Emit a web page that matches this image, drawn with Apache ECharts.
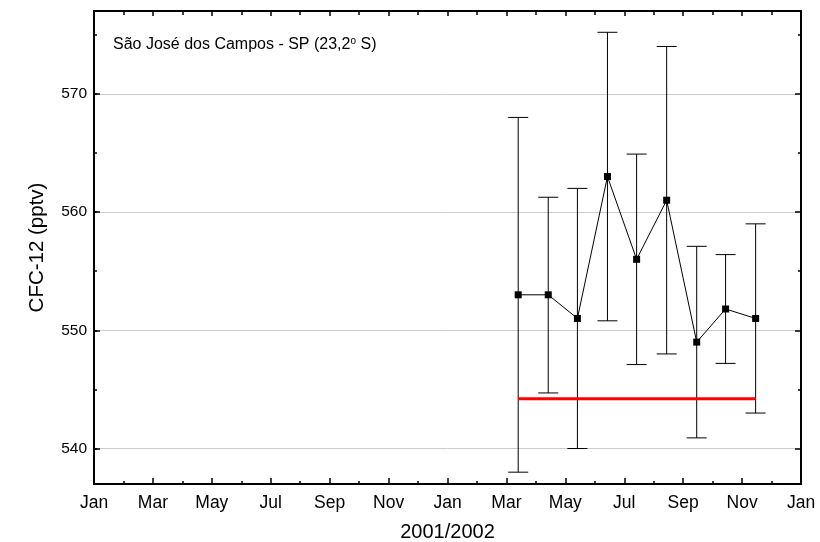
<!DOCTYPE html>
<html><head><meta charset="utf-8">
<script src="https://cdn.jsdelivr.net/npm/echarts@6/dist/echarts.min.js"></script>
<style>html,body{margin:0;padding:0;background:#fff}#c{width:820px;height:542px}</style>
</head><body><div id="c"></div>
<script>
// ---- data ----
const monthLabels = ['Jan','Feb','Mar','Apr','May','Jun','Jul','Aug','Sep','Oct','Nov','Dec'];
// x position in months since Jan 2001
const sampleMonth = [14.4, 15.42, 16.41, 17.43, 18.42, 19.44, 20.46, 21.44, 22.46];
const cfc12       = [553, 553, 551, 563, 556, 561, 549, 551.8, 551];
const cfc12Upper  = [568, 561.25, 562, 575.2, 564.9, 574, 557.1, 556.4, 559];
const cfc12Lower  = [538, 544.7, 540, 550.8, 547.1, 548, 540.9, 547.2, 543];
const refLevel = 544.2;
const refRange = [14.4, 22.46];
const xRange = [0, 24];
const yRange = [537, 577];

const FONT = '"Liberation Sans", Arial, sans-serif';
const chart = echarts.init(document.getElementById('c'));

const lineData = sampleMonth.map((m, i) => [m, cfc12[i]]);
const errData = sampleMonth.map((m, i) => [m, cfc12Upper[i], cfc12Lower[i]]);
const refData = refRange.map(m => [m, refLevel]);

const frame = { show: true, lineStyle: { color: '#000', width: 2 } };

const baseX = {
  type: 'value', min: xRange[0], max: xRange[1], interval: 2,
  splitLine: { show: false },
  axisLine: frame
};
const baseY = {
  type: 'value', min: yRange[0], max: yRange[1],
  splitLine: { show: false },
  axisLabel: { show: false }
};

chart.setOption({
  animation: false,
  backgroundColor: '#fff',
  title: {
    left: 108, top: 31,
    text: '{a|São José dos Campos - SP (23,2}{s|o}{a| S)}',
    textStyle: {
      fontWeight: 'normal',
      rich: {
        a: { fontFamily: FONT, fontSize: 16, fontWeight: 'normal', color: '#000', lineHeight: 18 },
        s: { fontFamily: FONT, fontSize: 10, fontWeight: 'normal', color: '#000', verticalAlign: 'top', lineHeight: 18 }
      }
    }
  },
  grid: { left: 94, right: 19, top: 11, bottom: 58, containLabel: false, outerBoundsMode: 'none' },
  xAxis: [
    Object.assign({}, baseX, {
      position: 'bottom', z: 3,
      name: '2001/2002', nameLocation: 'middle', nameGap: 38,
      nameTextStyle: { fontFamily: FONT, fontSize: 20, color: '#000' },
      axisTick: { inside: true, length: 6, lineStyle: { color: '#000', width: 1.5 } },
      minorTick: { show: true, splitNumber: 2, length: 3, lineStyle: { color: '#000', width: 1.5 } },
      axisLabel: {
        margin: 10, fontFamily: FONT, fontSize: 17.5, color: '#000',
        showMinLabel: true, showMaxLabel: true,
        formatter: v => monthLabels[Math.round(v) % 12]
      }
    }),
    Object.assign({}, baseX, {
      position: 'top', z: 3,
      axisTick: { inside: true, length: 5, lineStyle: { color: '#000', width: 1.5 } },
      minorTick: { show: true, splitNumber: 2, length: 4, lineStyle: { color: '#000', width: 1.5 } },
      axisLabel: { show: false }
    })
  ],
  yAxis: [
    Object.assign({}, baseY, {
      position: 'left', z: 1, minInterval: 10, maxInterval: 10,
      name: 'CFC-12 (pptv)', nameLocation: 'middle', nameGap: 46,
      nameTextStyle: { fontFamily: FONT, fontSize: 20.5, color: '#000' },
      axisLine: { show: false },
      axisTick: { inside: true, length: 6, lineStyle: { color: '#000', width: 1.5 } },
      axisLabel: { show: true, margin: 7, fontFamily: FONT, fontSize: 15.5, color: '#000',
                   showMinLabel: false, showMaxLabel: false },
      splitLine: { show: true, showMinLine: false, showMaxLine: false,
                   lineStyle: { color: '#cccccc', width: 1 } }
    }),
    Object.assign({}, baseY, {
      position: 'left', z: 3, minInterval: 5, maxInterval: 5,
      axisLine: frame,
      axisTick: { inside: true, length: 3, lineStyle: { color: '#000', width: 1.5 } }
    }),
    Object.assign({}, baseY, {
      position: 'right', z: 3, minInterval: 10, maxInterval: 10,
      axisLine: frame,
      axisTick: { inside: true, length: 6, lineStyle: { color: '#000', width: 1.5 } }
    }),
    Object.assign({}, baseY, {
      position: 'right', z: 3, minInterval: 5, maxInterval: 5,
      axisLine: frame,
      axisTick: { inside: true, length: 3, lineStyle: { color: '#000', width: 1.5 } }
    })
  ],
  series: [
    {
      type: 'custom', xAxisIndex: 0, yAxisIndex: 0, z: 2,
      data: errData,
      renderItem: function (params, api) {
        const x = api.value(0);
        const pHi = api.coord([x, api.value(1)]);
        const pLo = api.coord([x, api.value(2)]);
        const w = 10;
        const st = { stroke: '#000', lineWidth: 1 };
        return { type: 'group', children: [
          { type: 'line', shape: { x1: pHi[0], y1: pHi[1], x2: pLo[0], y2: pLo[1] }, style: st },
          { type: 'line', shape: { x1: pHi[0] - w, y1: pHi[1], x2: pHi[0] + w, y2: pHi[1] }, style: st },
          { type: 'line', shape: { x1: pLo[0] - w, y1: pLo[1], x2: pLo[0] + w, y2: pLo[1] }, style: st }
        ]};
      }
    },
    {
      type: 'line', xAxisIndex: 0, yAxisIndex: 0, z: 3,
      data: lineData,
      symbol: 'rect', symbolSize: 7,
      itemStyle: { color: '#000' },
      lineStyle: { color: '#000', width: 1 }
    },
    {
      type: 'line', xAxisIndex: 0, yAxisIndex: 0, z: 4,
      data: refData, symbol: 'none',
      lineStyle: { color: '#ff0000', width: 3 }
    }
  ]
});
</script>
</body></html>
